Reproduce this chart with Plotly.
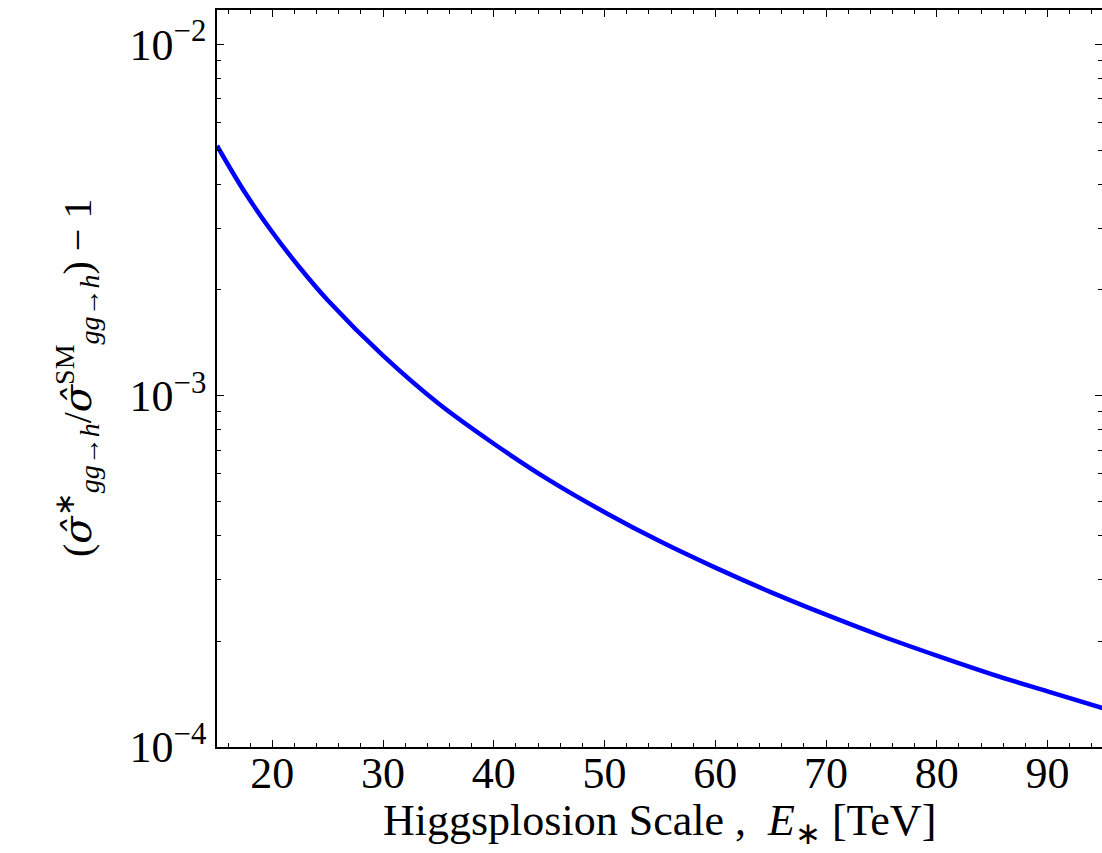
import plotly.graph_objects as go

# Values
energy_tev = [15, 17.5, 20, 22.5, 25, 30, 35, 40, 45, 50, 55, 60, 65, 70, 75, 80, 85, 90, 95]
ratio_minus_one = [5.15e-3, 3.80e-3, 2.92e-3, 2.31e-3, 1.87e-3, 1.30e-3, 9.5e-4, 7.3e-4,
                   5.75e-4, 4.66e-4, 3.85e-4, 3.24e-4, 2.76e-4, 2.38e-4, 2.07e-4,
                   1.82e-4, 1.61e-4, 1.44e-4, 1.29e-4]

y_tickvals = [1e-4, 1e-3, 1e-2]
y_ticktext = ["10<sup>−4</sup>", "10<sup>−3</sup>", "10<sup>−2</sup>"]
x_tickvals = [20, 30, 40, 50, 60, 70, 80, 90]
x_ticktext = ["20", "30", "40", "50", "60", "70", "80", "90"]

FONT = "Liberation Serif"
W, H = 1102, 853
L, R, T = 217, 0, 10
B = H - 747

fig = go.Figure()
fig.add_trace(go.Scatter(
    x=energy_tev, y=ratio_minus_one, mode="lines",
    line=dict(color="#0000ff", width=4.5, shape="spline", smoothing=1.0),
    showlegend=False, hoverinfo="x+y"))
# invisible copy on the mirrored right axis (for right-side ticks)
fig.add_trace(go.Scatter(
    x=energy_tev, y=ratio_minus_one, mode="lines", yaxis="y2",
    line=dict(color="rgba(0,0,0,0)", width=0), showlegend=False, hoverinfo="skip"))

yrange = [-4, -1.902]
xrange = [15, 94.92]

fig.update_layout(
    width=W, height=H,
    margin=dict(l=L, r=R, t=T, b=B),
    paper_bgcolor="white", plot_bgcolor="white",
    font=dict(family=FONT, size=44, color="black"),
    xaxis=dict(
        range=xrange, showgrid=False, zeroline=False,
        showline=True, linecolor="black", linewidth=1.6, mirror="ticks",
        ticks="inside", ticklen=7, tickwidth=1.2, tickcolor="black",
        tickvals=x_tickvals, ticktext=x_ticktext,
        tickfont=dict(family=FONT, size=44), ticklabelstandoff=-14,
        minor=dict(ticks="inside", ticklen=4, tickwidth=1, tickcolor="black",
                   dtick=2, tick0=0, showgrid=False),
    ),
    yaxis=dict(
        type="log", range=yrange, showgrid=False, zeroline=False,
        showline=True, linecolor="black", linewidth=1.6,
        ticks="inside", ticklen=7, tickwidth=1.2, tickcolor="black",
        tickvals=y_tickvals, ticktext=y_ticktext,
        tickfont=dict(family=FONT, size=44),
        minor=dict(ticks="inside", ticklen=4, tickwidth=1, tickcolor="black",
                   dtick="D1", showgrid=False),
    ),
    yaxis2=dict(
        type="log", range=yrange, overlaying="y", side="right",
        showgrid=False, zeroline=False, showline=False,
        ticks="inside", ticklen=7, tickwidth=1.2, tickcolor="black",
        tickvals=y_tickvals, showticklabels=False,
        minor=dict(ticks="inside", ticklen=4, tickwidth=1, tickcolor="black",
                   dtick="D1", showgrid=False),
    ),
)

# axis titles as annotations placed in pixel-derived paper coords
pw = W - L - R
ph = H - T - B


def px_to_paper(px, py):
    return (px - L) / pw, (H - B - py) / ph


xt = px_to_paper(659, 823)
fig.add_annotation(
    text="Higgsplosion Scale ,  <i>E</i><sub>∗</sub> [TeV]",
    xref="paper", yref="paper", x=xt[0], y=xt[1],
    xanchor="center", yanchor="middle", showarrow=False,
    font=dict(family=FONT, size=44, color="black"))

sig = "<span style=\"font-family:'DejaVu Serif'\"><i>σ̂</i></span>"
yt = px_to_paper(77, 378)
fig.add_annotation(
    text="(" + sig + "<sup>∗</sup><sub><i>gg</i>→<i>h</i></sub>/" + sig
         + "<sup>SM</sup><sub><i>gg</i>→<i>h</i></sub>) − 1",
    xref="paper", yref="paper", x=yt[0], y=yt[1],
    xanchor="center", yanchor="middle", textangle=-90, showarrow=False,
    font=dict(family=FONT, size=40, color="black"))

page_css = ("document.body.style.margin='0';"
            "document.body.style.overflow='hidden';"
            "document.documentElement.style.overflow='hidden';")
fig.write_html("out.html", post_script=page_css,
               config={"displayModeBar": False})
